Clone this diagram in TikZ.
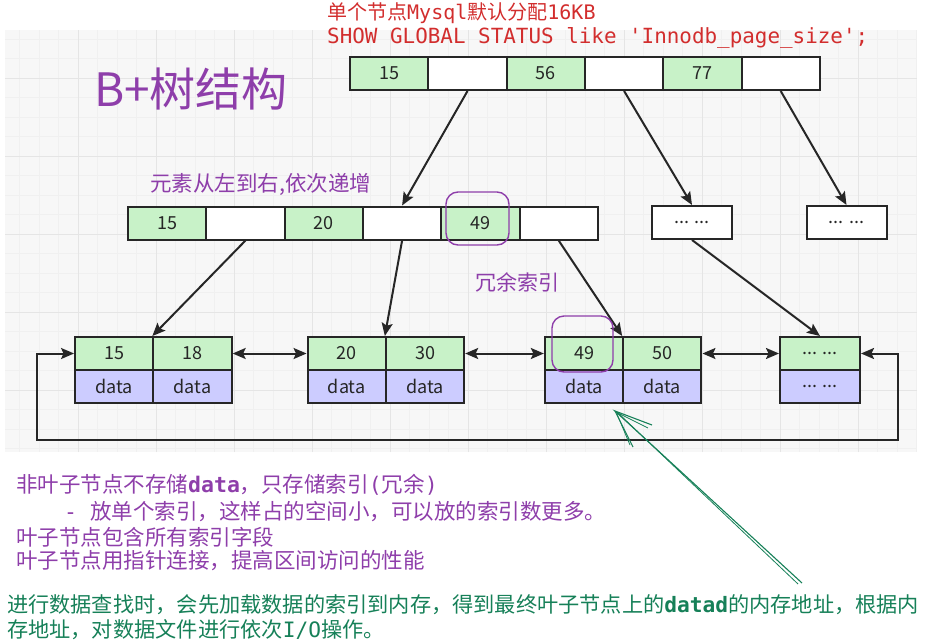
\documentclass[tikz,border=0pt]{standalone}
\usepackage{fontspec}
\setmainfont{Noto Sans CJK SC}
\newfontfamily\mono{DejaVu Sans Mono}
\usetikzlibrary{arrows.meta}

\definecolor{keygreen}{RGB}{200,242,200}
\definecolor{datablue}{RGB}{204,204,255}
\definecolor{notered}{RGB}{210,45,45}
\definecolor{notepurple}{RGB}{142,62,170}
\definecolor{notegreen}{RGB}{22,128,88}

\tikzset{
  cell/.style={draw=black!85, line width=2pt, minimum width=78.3pt, minimum height=33pt,
    inner sep=0pt, font=\fontsize{18}{18}\selectfont, text=black!85},
  key/.style={cell, fill=keygreen},
  ptr/.style={cell, fill=white},
  rec/.style={cell, fill=datablue},
  link/.style={->, line width=2pt, draw=black!85},
  note/.style={anchor=west, inner sep=0pt, text=notepurple, font=\fontsize{21.5}{25}\selectfont},
  mark49/.style={draw=notepurple, line width=1.4pt, rounded corners=12pt},
}

\begin{document}
\begin{tikzpicture}[x=1pt, y=-1pt, >={Stealth[length=13pt,width=11pt,inset=2.5pt]}]
    \useasboundingbox (0,0) rectangle (934,643);

    % screenshot background
    \fill[black!3] (5,30) rectangle (917,452);
    \draw[black!6, step=19.5pt] (5,30) grid (917,452);
    \draw[black!10, step=78pt] (5,30) grid (917,452);

    % root page
    \node[key] (r1) at (389.2,73.5) {15};
    \node[ptr] (r2) at (467.5,73.5) {};
    \node[key] (r3) at (545.8,73.5) {56};
    \node[ptr] (r4) at (624.1,73.5) {};
    \node[key] (r5) at (702.4,73.5) {77};
    \node[ptr] (r6) at (780.7,73.5) {};

    % second level
    \node[key] (m1) at (167.2,223) {15};
    \node[ptr] (m2) at (245.5,223) {};
    \node[key] (m3) at (323.8,223) {20};
    \node[ptr] (m4) at (402.1,223) {};
    \node[key] (m5) at (480.4,223) {49};
    \node[ptr] (m6) at (558.7,223) {};
    \node[ptr, minimum width=80pt] (b1) at (692,222.5) {... ...};
    \node[ptr, minimum width=80pt] (b2) at (846.5,222.5) {... ...};

    % leaves
    \node[key] (l1a) at (114.2,353.5) {15};
    \node[key] (l1b) at (192.5,353.5) {18};
    \node[rec] (l1c) at (114.2,386.5) {data};
    \node[rec] (l1d) at (192.5,386.5) {data};

    \node[key] (l2a) at (346.7,353.5) {20};
    \node[key] (l2b) at (425,353.5) {30};
    \node[rec] (l2c) at (346.7,386.5) {data};
    \node[rec] (l2d) at (425,386.5) {data};

    \node[key] (l3a) at (584,353.5) {49};
    \node[key] (l3b) at (662.3,353.5) {50};
    \node[rec] (l3c) at (584,386.5) {data};
    \node[rec] (l3d) at (662.3,386.5) {data};

    \node[key, minimum width=80pt] (l4a) at (820,353.5) {... ...};
    \node[rec, minimum width=80pt] (l4b) at (820,386.5) {... ...};

    % pointers
    \draw[link] (r2.south) -- (m4.north);
    \draw[link] (r4.south) -- (b1.north);
    \draw[link] (r6.south) -- (b2.north);
    \draw[link] (m2.south) -- (l1b.north west);
    \draw[link] (m4.south) -- (l2b.north west);
    \draw[link] (m6.south) -- (l3b.north west);
    \draw[link] (b1.south) -- (l4a.north);

    % leaf chain
    \draw[link, <->] (l1b.east) -- (l2a.west);
    \draw[link, <->] (l2b.east) -- (l3a.west);
    \draw[link, <->] (l3b.east) -- (l4a.west);
    \coordinate (loopL) at (37,440);
    \coordinate (loopR) at (898,440);
    \draw[link, <->] (l1a.west) -| (loopL) -- (loopR) |- (l4a.east);

    % hand marks
    \draw[mark49] (446,192) rectangle (509,245);
    \draw[mark49] (552,316) rectangle (613,372);
    \coordinate (gTip) at (615,411);
    \coordinate (gTail) at (802,583);
    \draw[notegreen, line width=1.1pt] (gTail) -- (gTip) -- (652,425);
    \draw[notegreen, line width=1.1pt] (gTip) -- (633,447);
    \draw[notegreen, line width=0.8pt] (798,584) -- (618,413) -- (648,428);
    \draw[notegreen, line width=0.8pt] (617,414) -- (630,445);

    % texts
    \node[note, text=notered, font=\fontsize{20}{20}\selectfont] (capA) at (327,13)
        {单个节点{\mono Mysql}默认分配{\mono 16KB}};
    \node[note, text=notered, font=\fontsize{20.9}{21}\selectfont] (capB) at (327,38)
        {\mono SHOW GLOBAL STATUS like \textquotesingle Innodb\_page\_size\textquotesingle;};
    \node[note, font=\fontsize{46}{46}\selectfont] (title) at (94,89) {B+树结构};
    \node[note] (order) at (150,184) {元素从左到右,依次递增};
    \node[note, font=\fontsize{21}{21}\selectfont] (dup) at (475,282) {冗余索引};

    \node[note] (n1) at (16,485) {非叶子节点不存储{\mono\bfseries data}，只存储索引{\mono(}冗余{\mono)}};
    \node[note] (n2) at (64,512) {{\mono -~}放单个索引，这样占的空间小，可以放的索引数更多。};
    \node[note] (n3) at (16,537) {叶子节点包含所有索引字段};
    \node[note] (n4) at (16,561) {叶子节点用指针连接，提高区间访问的性能};

    \node[note, text=notegreen, font=\fontsize{21.2}{22}\selectfont] (g1) at (7,605)
        {进行数据查找时，会先加载数据的索引到内存，得到最终叶子节点上的{\mono\bfseries datad}的内存地址，根据内};
    \node[note, text=notegreen, font=\fontsize{21.2}{22}\selectfont] (g2) at (7,630)
        {存地址，对数据文件进行依次{\mono I/O}操作。};
\end{tikzpicture}
\end{document}
